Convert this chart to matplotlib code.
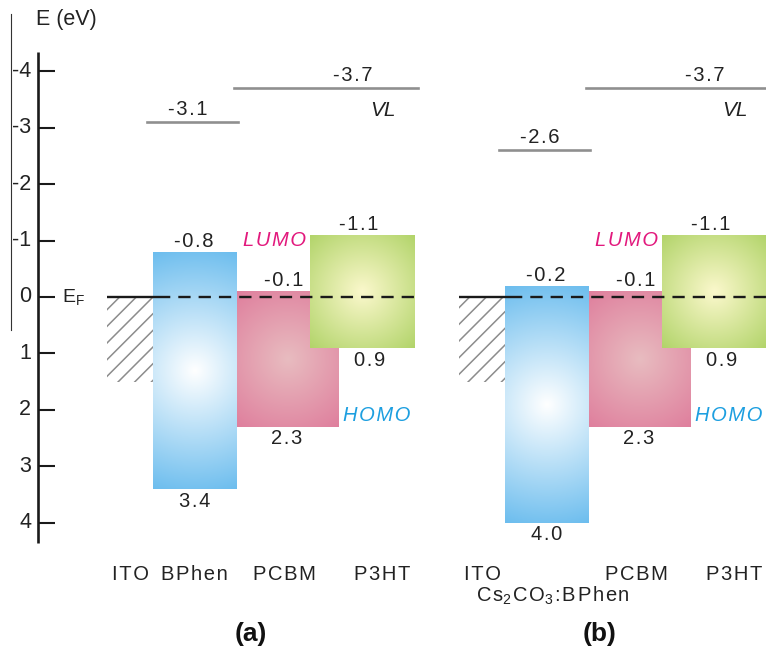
import numpy as np
import matplotlib.pyplot as plt
from matplotlib.patches import Rectangle
from matplotlib.colors import to_rgb

plt.rcParams['font.family'] = ['Liberation Sans', 'DejaVu Sans']
plt.rcParams['mathtext.fontset'] = 'custom'
plt.rcParams['mathtext.rm'] = 'Liberation Sans'
plt.rcParams['mathtext.it'] = 'Liberation Sans:italic'
plt.rcParams['hatch.linewidth'] = 1.1

# energy levels relative to E_F (eV), one entry per panel
panel_tags = ['(a)', '(b)']
vl_cathode = [-3.1, -2.6]
vl_organic = [-3.7, -3.7]
bphen_lumo = [-0.8, -0.2]
bphen_homo = [3.4, 4.0]
pcbm_lumo = [-0.1, -0.1]
pcbm_homo = [2.3, 2.3]
p3ht_lumo = [-1.1, -1.1]
p3ht_homo = [0.9, 0.9]
ito_depth = 1.5

tick_values = [-4, -3, -2, -1, 0, 1, 2, 3, 4]
tick_labels = ['-4', '-3', '-2', '-1', '0', '1', '2', '3', '4']

PX_EV = 56.4   # pixels per eV
Y0 = 297       # pixel row of E_F
HS = '\u200a'  # hair space for the wide letter spacing


def ypos(py):
    return (py - Y0) / PX_EV


def spaced(s):
    return HS.join(s)


fig = plt.figure(figsize=(7.66, 6.51), dpi=100)
ax = fig.add_axes([0, 0, 1, 1])
ax.axis('off')


def glow(x0, x1, top, bottom, edge, centre, z):
    # rectangle with a radial gradient, lighter in the middle
    w = x1 - x0
    h = (bottom - top) * PX_EV
    nx, ny = max(int(w), 2), max(int(h), 2)
    xx, yy = np.meshgrid(np.linspace(-w / 2, w / 2, nx), np.linspace(-h / 2, h / 2, ny))
    t = np.clip(np.hypot(xx, yy) / np.hypot(w / 2, h / 2), 0, 1)[..., None]
    img = np.array(to_rgb(centre)) * (1 - t) + np.array(to_rgb(edge)) * t
    ax.imshow(img, extent=(x0, x1, bottom, top), aspect='auto',
              interpolation='bilinear', zorder=z)


num = dict(fontsize=14.5, color='#222222', ha='center')
name = dict(fontsize=14.5, color='#222222', ha='center', va='center')

for i, dx in enumerate([0, 352]):
    # ITO: filled states below E_F
    ax.add_patch(Rectangle((107 + dx, 0), 46, ito_depth, hatch='//', fill=False,
                           edgecolor='#8c8c8c', lw=0, zorder=1))
    ax.plot([107 + dx, 158 + dx], [0, 0], color='#1a1a1a', lw=1.7, zorder=5,
            solid_capstyle='butt')

    # organic layers
    glow(153 + dx, 237 + dx, bphen_lumo[i], bphen_homo[i], '#6cbdee', '#ffffff', 2)
    glow(237 + dx, 339 + dx, pcbm_lumo[i], pcbm_homo[i], '#df7f9d', '#e8bcc0', 2)
    glow(310 + dx, 415 + dx, p3ht_lumo[i], p3ht_homo[i], '#b2d46a', '#fbf8cc', 3)

    ax.plot([158 + dx, 418 + dx], [0, 0], color='#1a1a1a', lw=1.7,
            dashes=(5.2, 3.4), zorder=5)

    # vacuum levels
    ax.plot([147 + dx, 238 + dx], [vl_cathode[i]] * 2, color='#8f8f8f', lw=1.9, zorder=4)
    ax.plot([234 + dx, 418 + dx], [vl_organic[i]] * 2, color='#8f8f8f', lw=1.9, zorder=4)
    ax.annotate(spaced(f'{vl_cathode[i]:.1f}'), (188 + dx, vl_cathode[i]), xytext=(0, 5),
                textcoords='offset points', va='baseline', **num)
    ax.annotate(spaced(f'{vl_organic[i]:.1f}'), (353 + dx, vl_organic[i]), xytext=(0, 5),
                textcoords='offset points', va='baseline', **num)
    ax.text(383 + dx, ypos(111), 'VL', fontsize=15, style='italic', color='#222222',
            ha='center', va='center')

    # level values
    ax.annotate(spaced(f'{bphen_lumo[i]:.1f}'), (194 + dx, bphen_lumo[i]), xytext=(0, 3.5),
                textcoords='offset points', va='baseline', **num)
    ax.annotate(spaced(f'{bphen_homo[i]:.1f}'), (195 + dx, bphen_homo[i]), xytext=(0, -2),
                textcoords='offset points', va='top', **num)
    ax.annotate(spaced(f'{pcbm_lumo[i]:.1f}'), (284 + dx, pcbm_lumo[i]), xytext=(0, 3.5),
                textcoords='offset points', va='baseline', **num)
    ax.annotate(spaced(f'{pcbm_homo[i]:.1f}'), (287 + dx, pcbm_homo[i]), xytext=(0, -2),
                textcoords='offset points', va='top', **num)
    ax.annotate(spaced(f'{p3ht_lumo[i]:.1f}'), (359 + dx, p3ht_lumo[i]), xytext=(0, 3.5),
                textcoords='offset points', va='baseline', **num)
    ax.annotate(spaced(f'{p3ht_homo[i]:.1f}'), (370 + dx, p3ht_homo[i]), xytext=(0, -2),
                textcoords='offset points', va='top', **num)

    ax.annotate(spaced('LUMO'), (310 + dx, p3ht_lumo[i]), xytext=(-3, 3),
                textcoords='offset points', ha='right', va='top', fontsize=14.5,
                style='italic', color='#e2197d')
    ax.annotate(spaced('HOMO'), (339 + dx, pcbm_homo[i]), xytext=(3, 4),
                textcoords='offset points', ha='left', va='baseline', fontsize=14.5,
                style='italic', color='#1d9fe0')

    # layer names
    ax.text(130 + dx, ypos(574), spaced('ITO'), **name)
    ax.text(284 + dx, ypos(574), spaced('PCBM'), **name)
    ax.text(382 + dx, ypos(574), spaced('P3HT'), **name)
    ax.text(251 + dx - (3 if i else 0), ypos(634), panel_tags[i], fontsize=19,
            fontweight='bold', ha='center', va='center', color='#111111')

ax.text(194, ypos(574), spaced('BPhen'), **name)
ax.text(553, ypos(596), 'C' + HS + 's$_2$' + HS + 'C' + HS + 'O$_3$' + HS + ':' + HS
        + spaced('BPhen'), **name)

# energy axis
ax.plot([38, 38], [ypos(52), ypos(543)], color='#1a1a1a', lw=1.9, solid_capstyle='butt')
for v, lab in zip(tick_values, tick_labels):
    ax.plot([38, 55], [v, v], color='#1a1a1a', lw=1.5, solid_capstyle='butt')
    ax.text(31, v, lab, fontsize=15.5, ha='right', va='center', color='#222222')
ax.text(36, ypos(20), 'E (eV)', fontsize=15.5, ha='left', va='center', color='#222222')
ax.text(62, 0, r'E$_\mathregular{F}$', fontsize=14, ha='left', va='center', color='#222222')
ax.plot([11, 11], [ypos(14), ypos(330)], color='#333333', lw=0.8)

ax.set_xlim(0, 766)
ax.set_ylim(ypos(651), ypos(0))

fig.savefig('out.png', dpi=100)
